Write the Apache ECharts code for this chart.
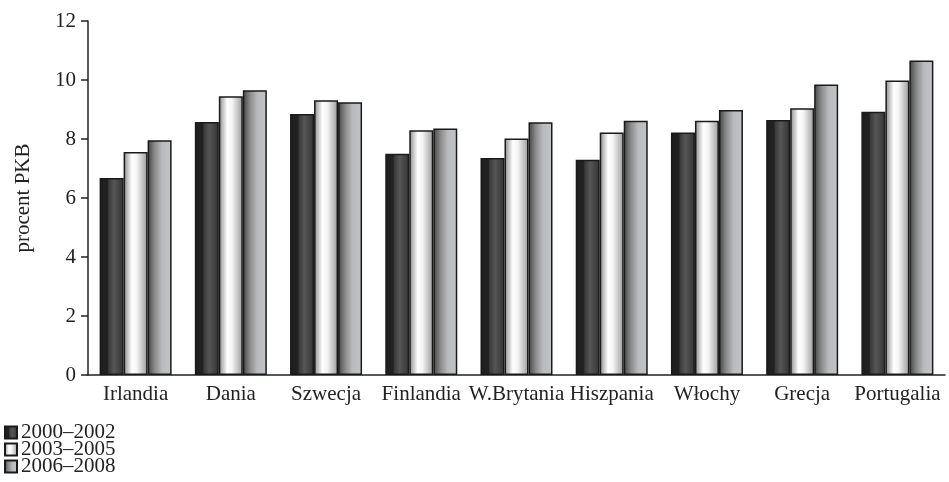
<!DOCTYPE html>
<html><head><meta charset="utf-8">
<script src="https://cdn.jsdelivr.net/npm/echarts@6/dist/echarts.min.js"></script>
<style>html,body{margin:0;padding:0;background:#fff}#c{width:949px;height:482px}</style>
</head><body><div id="c"></div>
<script>
var categories = ['Irlandia','Dania','Szwecja','Finlandia','W.Brytania','Hiszpania','Włochy','Grecja','Portugalia'];
var seriesNames = ['2000–2002','2003–2005','2006–2008'];
var s2000 = [6.68, 8.58, 8.85, 7.5, 7.36, 7.3, 8.22, 8.64, 8.92];
var s2003 = [7.56, 9.45, 9.31, 8.3, 8.02, 8.22, 8.62, 9.04, 9.98];
var s2006 = [7.96, 9.65, 9.25, 8.36, 8.57, 8.62, 8.98, 9.85, 10.66];
var yTicks = [0,2,4,6,8,10,12];

function grad(stops){
  return new echarts.graphic.LinearGradient(0,0,1,0, stops.map(function(s){return {offset:s[0],color:s[1]};}));
}
var fills = [
  grad([[0,'#1e1e1e'],[0.33,'#222'],[0.38,'#3a3a3a'],[0.6,'#565656'],[1,'#333']]),
  grad([[0,'#8a8a8a'],[0.35,'#ffffff'],[0.55,'#f4f4f4'],[1,'#9a9a9a']]),
  grad([[0,'#444'],[0.3,'#8a8a8a'],[0.6,'#b8babd'],[1,'#c2c4c7']])
];
var data = [s2000, s2003, s2006];
var font = '"Liberation Serif","Times New Roman",serif';
var chart = echarts.init(document.getElementById('c'), null, {renderer:'canvas'});
chart.setOption({
  animation:false,
  textStyle:{fontFamily:font},
  grid:{left:88,right:4,top:21,bottom:107,containLabel:false},
  legend:{
    orient:'vertical', left:4, top:422, height:80, itemGap:-4, itemWidth:12, itemHeight:12,
    padding:0, icon:'rect', align:'left',
    textStyle:{fontFamily:font,fontSize:21,color:'#222',padding:[0,0,0,-1]},
    data:seriesNames
  },
  xAxis:{
    type:'category', data:categories,
    axisLine:{show:true,lineStyle:{color:'#222',width:1.5}},
    axisTick:{show:false},
    axisLabel:{fontFamily:font,fontSize:21,color:'#222',margin:9,interval:0}
  },
  yAxis:{
    type:'value', min:0, max:12, interval:2,
    name:'procent PKB', nameLocation:'middle', nameGap:54, nameRotate:90,
    nameTextStyle:{fontFamily:font,fontSize:21,color:'#222'},
    axisLine:{show:true,lineStyle:{color:'#222',width:1.5}},
    axisTick:{show:true,length:7,lineStyle:{color:'#222',width:1.5}},
    axisLabel:{fontFamily:font,fontSize:21,color:'#222',margin:12,
      formatter:function(v){return yTicks.indexOf(v)>=0?String(v):'';}},
    splitLine:{show:false}
  },
  series: seriesNames.map(function(n,i){
    return {
      name:n, type:'bar', data:data[i], barWidth:24, barGap:'0%',
      itemStyle:{color:fills[i], borderColor:'#1a1a1a', borderWidth:1.5}
    };
  })
});
</script></body></html>
